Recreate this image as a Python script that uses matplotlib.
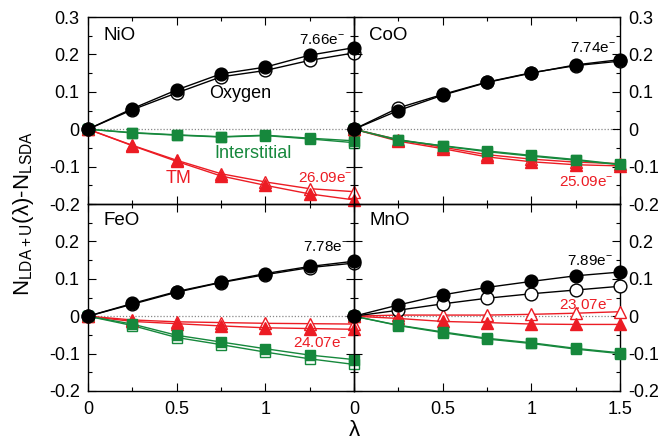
import matplotlib
matplotlib.use('Agg')
import matplotlib.pyplot as plt
from matplotlib.ticker import MultipleLocator

plt.rcParams['font.family'] = ['Liberation Sans', 'DejaVu Sans']
plt.rcParams['mathtext.fontset'] = 'custom'
plt.rcParams['mathtext.rm'] = 'Liberation Sans'
plt.rcParams['mathtext.it'] = 'Liberation Sans:italic'
plt.rcParams['axes.unicode_minus'] = False

# ── Data ──────────────────────────────────────────────────────────────────
lam = [0, 0.25, 0.5, 0.75, 1.0, 1.25, 1.5]

# filled = one curve, open = the other
nio_ox_f  = [0, 0.055, 0.105, 0.148, 0.166, 0.198, 0.218]
nio_ox_o  = [0, 0.052, 0.097, 0.140, 0.157, 0.184, 0.204]
nio_int_f = [0, -0.009, -0.015, -0.020, -0.016, -0.024, -0.031]
nio_int_o = [0, -0.010, -0.016, -0.021, -0.017, -0.026, -0.036]
nio_tm_f  = [0, -0.044, -0.086, -0.125, -0.150, -0.173, -0.189]
nio_tm_o  = [0, -0.043, -0.083, -0.119, -0.141, -0.159, -0.167]

coo_ox_f  = [0, 0.050, 0.091, 0.125, 0.150, 0.172, 0.186]
coo_ox_o  = [0, 0.057, 0.093, 0.126, 0.151, 0.170, 0.182]
coo_int_f = [0, -0.030, -0.044, -0.058, -0.070, -0.081, -0.094]
coo_int_o = [0, -0.028, -0.045, -0.060, -0.072, -0.083, -0.095]
coo_tm_f  = [0, -0.032, -0.052, -0.074, -0.087, -0.095, -0.098]
coo_tm_o  = [0, -0.028, -0.048, -0.068, -0.080, -0.088, -0.092]

feo_ox_f  = [0, 0.034, 0.066, 0.091, 0.114, 0.133, 0.147]
feo_ox_o  = [0, 0.032, 0.064, 0.090, 0.111, 0.130, 0.142]
feo_int_f = [0, -0.021, -0.051, -0.069, -0.087, -0.104, -0.116]
feo_int_o = [0, -0.025, -0.057, -0.076, -0.096, -0.114, -0.129]
feo_tm_f  = [0, -0.014, -0.020, -0.026, -0.031, -0.033, -0.035]
feo_tm_o  = [0, -0.010, -0.015, -0.017, -0.019, -0.020, -0.021]

mno_ox_f  = [0, 0.030, 0.057, 0.077, 0.093, 0.108, 0.118]
mno_ox_o  = [0, 0.016, 0.033, 0.048, 0.060, 0.070, 0.080]
mno_int_f = [0, -0.024, -0.042, -0.059, -0.071, -0.086, -0.098]
mno_int_o = [0, -0.025, -0.044, -0.061, -0.073, -0.088, -0.100]
mno_tm_f  = [0, -0.006, -0.014, -0.017, -0.021, -0.022, -0.022]
mno_tm_o  = [0, 0.003, 0.003, 0.003, 0.005, 0.008, 0.012]

ox_counts = ['7.66e$^{-}$', '7.74e$^{-}$', '7.78e$^{-}$', '7.89e$^{-}$']
tm_counts = ['26.09e$^{-}$', '25.09e$^{-}$', '24.07e$^{-}$', '23.07e$^{-}$']
names     = ['NiO', 'CoO', 'FeO', 'MnO']

# ── Colours ───────────────────────────────────────────────────────────────
BLK = 'black'
RED = '#ec1c24'
GRN = '#16883c'

fig = plt.figure(figsize=(6.63, 4.44), dpi=100)

L, M, R = 0.1327, 0.534, 0.935
T, H, B = 0.9617, 0.5405, 0.1194

boxes = [(L, H, M - L, T - H), (M, H, R - M, T - H),
         (L, B, M - L, H - B), (M, B, R - M, H - B)]

panels = [
    (nio_ox_f, nio_ox_o, nio_int_f, nio_int_o, nio_tm_f, nio_tm_o),
    (coo_ox_f, coo_ox_o, coo_int_f, coo_int_o, coo_tm_f, coo_tm_o),
    (feo_ox_f, feo_ox_o, feo_int_f, feo_int_o, feo_tm_f, feo_tm_o),
    (mno_ox_f, mno_ox_o, mno_int_f, mno_int_o, mno_tm_f, mno_tm_o),
]

# label positions (data coords): ox count, tm count
ox_pos = [(1.32, 0.238), (1.35, 0.218), (1.34, 0.184), (1.33, 0.148)]
tm_pos = [(1.34, -0.13), (1.31, -0.141), (1.31, -0.073), (1.31, 0.03)]

def series(ax, y_f, y_o, color, marker, ms):
    ax.plot(lam, y_o, color=color, lw=1.0, marker=marker, ms=ms,
            mfc='white', mec=color, mew=1.0, clip_on=False, zorder=4)
    ax.plot(lam, y_f, color=color, lw=1.0, marker=marker, ms=ms,
            mfc=color, mec=color, mew=1.0, clip_on=False, zorder=5)

for i, (box, data) in enumerate(zip(boxes, panels)):
    ax = fig.add_axes(box)
    ax.set_facecolor('none')
    ox_f, ox_o, in_f, in_o, tm_f, tm_o = data
    ax.axhline(0, color='#888888', lw=0.9, ls=(0, (1, 1.5)), zorder=1)
    series(ax, tm_f, tm_o, RED, '^', 8.5)
    series(ax, in_f, in_o, GRN, 's', 7.5)
    series(ax, ox_f, ox_o, BLK, 'o', 9.2)

    ax.set_xlim(0, 1.5)
    ax.set_ylim(-0.2, 0.3)
    ax.xaxis.set_major_locator(MultipleLocator(0.5))
    ax.xaxis.set_minor_locator(MultipleLocator(0.25))
    ax.yaxis.set_major_locator(MultipleLocator(0.1))
    ax.yaxis.set_minor_locator(MultipleLocator(0.05))
    ax.tick_params(which='both', direction='in', top=True, bottom=True,
                   left=True, right=True, labelsize=13)
    ax.tick_params(which='major', length=6, width=0.8)
    ax.tick_params(which='minor', length=3, width=0.8)
    for sp in ax.spines.values():
        sp.set_linewidth(1.0)

    left = i % 2 == 0
    top = i < 2
    ax.tick_params(labelleft=left, labelright=not left)

    yt = [-0.2, -0.1, 0, 0.1, 0.2, 0.3] if top else [-0.2, -0.1, 0, 0.1, 0.2]
    ax.set_yticks(yt)
    ax.set_yticklabels([f'{v:g}' for v in yt])
    if top:
        ax.tick_params(labelbottom=False)
    else:
        xt = [0, 0.5, 1] if left else [0, 0.5, 1, 1.5]
        ax.set_xticks(xt)
        ax.set_xticklabels([f'{v:g}' for v in xt])
    ax.tick_params(axis='x', pad=7)
    ax.tick_params(axis='y', pad=6)

    ax.text(0.085, 0.25 if top else 0.257, names[i], fontsize=13.5,
            ha='left', va='center')
    ax.text(*ox_pos[i], ox_counts[i], fontsize=11, ha='center', va='center')
    ax.text(*tm_pos[i], tm_counts[i], fontsize=11, ha='center', va='center',
            color=RED)
    if i == 0:
        ax.text(0.86, 0.096, 'Oxygen', fontsize=13, ha='center', va='center')
        ax.text(0.93, -0.065, 'Interstitial', fontsize=13, ha='center',
                va='center', color=GRN)
        ax.text(0.51, -0.132, 'TM', fontsize=13, ha='center', va='center',
                color=RED)

fig.text(0.036, 0.52, 'N$_{\\mathrm{LDA+U}}$(λ)-N$_{\\mathrm{LSDA}}$',
         rotation=90, fontsize=16, ha='center', va='center')
fig.text(M, 0.03, 'λ', fontsize=16, ha='center', va='center')

fig.savefig('out.png', dpi=100)
